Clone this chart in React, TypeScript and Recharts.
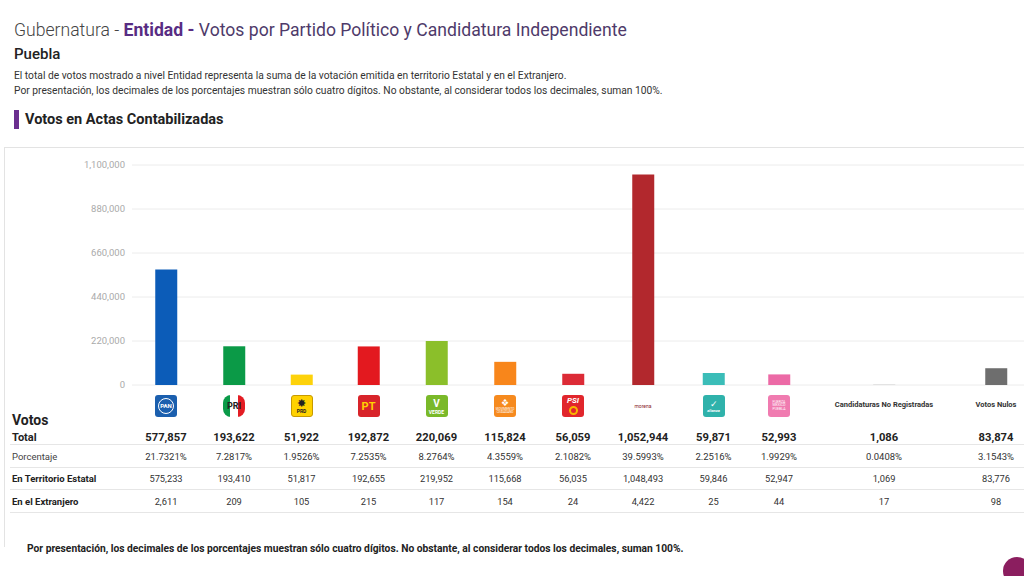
import React from "react";
import { BarChart, Bar, XAxis, YAxis, CartesianGrid, Cell } from "recharts";

// ---- data ----
const partyIds = ["PAN", "PRI", "PRD", "PT", "PVEM", "MC", "PSI", "MORENA", "NAP", "FXM", "CNR", "NULOS"];
const partyNames = [
  "PAN", "PRI", "PRD", "PT", "VERDE", "MC", "PSI", "morena", "Nueva Alianza", "Fuerza por México",
  "Candidaturas No Registradas", "Votos Nulos",
];
const totalVotes = [577857, 193622, 51922, 192872, 220069, 115824, 56059, 1052944, 59871, 52993, 1086, 83874];
const percentages = [21.7321, 7.2817, 1.9526, 7.2535, 8.2764, 4.3559, 2.1082, 39.5993, 2.2516, 1.9929, 0.0408, 3.1543];
const territoryVotes = [575233, 193410, 51817, 192655, 219952, 115668, 56035, 1048493, 59846, 52947, 1069, 83776];
const abroadVotes = [2611, 209, 105, 215, 117, 154, 24, 4422, 25, 44, 17, 98];
const yTicks = [0, 220000, 440000, 660000, 880000, 1100000];

// ---- styles / layout ----
const barColors = [
  "#0c5cb8", "#0b9a47", "#fdd20b", "#e3191f", "#8bbf2a", "#f8861b",
  "#dc2b36", "#b2282d", "#3bbdb8", "#ec6aa6", "#9e9e9e", "#6e6e6e",
];
const labelColWidth = 132;
const columnWidths = [68, 68, 67, 67, 69, 68, 68, 72, 69, 62, 148, 76];
const totalWidth = columnWidths.reduce((a, b) => a + b, 0);
const FONT = "Roboto, 'Noto Sans', Arial, sans-serif";

const chartData = partyIds.map((id, i) => {
  const before = columnWidths.slice(0, i).reduce((a, b) => a + b, 0);
  return { id, name: partyNames[i], votes: totalVotes[i], col: before + columnWidths[i] / 2 };
});

const fmt = (n: number) => n.toLocaleString("en-US");

function Logo({ id }: { id: string }) {
  const box: React.CSSProperties = {
    width: 22, height: 22, borderRadius: 3, display: "flex", alignItems: "center",
    justifyContent: "center", boxSizing: "border-box", overflow: "hidden", lineHeight: 1,
  };
  switch (id) {
    case "PAN":
      return (
        <div style={{ ...box, background: "#1b5fae" }}>
          <div style={{ width: 16, height: 16, borderRadius: 8, border: "1.5px solid #fff", color: "#fff", fontSize: 6, fontWeight: 700, display: "flex", alignItems: "center", justifyContent: "center", boxSizing: "border-box" }}>PAN</div>
        </div>
      );
    case "PRI":
      return (
        <div style={{ ...box, background: "linear-gradient(90deg,#0a9a48 0 30%,#fff 30% 70%,#e31c23 70% 100%)", borderRadius: 8, color: "#222", fontSize: 9, fontWeight: 700 }}>PRI</div>
      );
    case "PRD":
      return (
        <div style={{ ...box, background: "#ffd200", border: "1px solid #c79a00", flexDirection: "column" }}>
          <div style={{ color: "#222", fontSize: 11, lineHeight: "11px" }}>✸</div>
          <div style={{ color: "#222", fontSize: 5, fontWeight: 700 }}>PRD</div>
        </div>
      );
    case "PT":
      return <div style={{ ...box, background: "#d8242a", color: "#ffd200", fontSize: 11, fontWeight: 700 }}>PT</div>;
    case "PVEM":
      return (
        <div style={{ ...box, background: "#7ab929", flexDirection: "column", color: "#fff" }}>
          <div style={{ fontSize: 10, fontWeight: 700, lineHeight: "12px" }}>V</div>
          <div style={{ fontSize: 5, fontWeight: 700 }}>VERDE</div>
        </div>
      );
    case "MC":
      return (
        <div style={{ ...box, background: "#f68a1e", color: "#fff", flexDirection: "column" }}>
          <div style={{ fontSize: 9, lineHeight: "9px" }}>❖</div>
          <div style={{ fontSize: 3 }}>MOVIMIENTO CIUDADANO</div>
        </div>
      );
    case "PSI":
      return (
        <div style={{ ...box, background: "#e1262c", color: "#fff", flexDirection: "column" }}>
          <div style={{ fontSize: 8, fontWeight: 700, fontStyle: "italic" }}>PSI</div>
          <div style={{ width: 9, height: 9, borderRadius: 5, border: "2px solid #f7b500", boxSizing: "border-box", marginTop: 1 }} />
        </div>
      );
    case "MORENA":
      return <div style={{ ...box, color: "#8a1c2a", fontSize: 5 }}>morena</div>;
    case "NAP":
      return (
        <div style={{ ...box, background: "#2fb2ab", color: "#fff", flexDirection: "column" }}>
          <div style={{ fontSize: 9, lineHeight: "9px" }}>✓</div>
          <div style={{ fontSize: 4, fontStyle: "italic", fontWeight: 700 }}>alianza</div>
        </div>
      );
    case "FXM":
      return (
        <div style={{ ...box, background: "#f07bb0", color: "#fff", fontSize: 3.5, textAlign: "center", padding: 1 }}>FUERZA MÉXICO PUEBLA</div>
      );
    case "CNR":
      return <div style={{ fontSize: 7.5, fontWeight: 700, color: "#333", whiteSpace: "nowrap", marginTop: -4 }}>Candidaturas No Registradas</div>;
    case "NULOS":
      return <div style={{ fontSize: 7.5, fontWeight: 700, color: "#333", whiteSpace: "nowrap", marginTop: -4 }}>Votos Nulos</div>;
    default:
      return null;
  }
}

function Row({ top, height, label, labelStyle, cells, cellStyle }: any) {
  return (
    <div style={{ position: "absolute", left: 0, top, height, display: "flex", alignItems: "center", width: labelColWidth + totalWidth }}>
      <div style={{ width: labelColWidth, paddingLeft: 12, boxSizing: "border-box", ...labelStyle }}>{label}</div>
      {cells.map((c: any, i: number) => (
        <div key={i} style={{ width: columnWidths[i], textAlign: "center", display: "flex", justifyContent: "center", ...cellStyle }}>{c}</div>
      ))}
    </div>
  );
}

const hLine = (top: number) => (
  <div style={{ position: "absolute", left: 10, top, width: 1030, height: 1, background: "#e6e6e6" }} />
);

export default function App() {
  return (
    <div style={{ position: "absolute", left: 0, top: 0, width: 1024, height: 576, overflow: "hidden", background: "#fff", fontFamily: FONT, color: "#333" }}>
      {/* header */}
      <div style={{ position: "absolute", left: 14, top: 19, fontSize: 17.6, whiteSpace: "nowrap", lineHeight: "22px" }}>
        <span style={{ color: "#444", fontWeight: 300 }}>Gubernatura - </span>
        <span style={{ color: "#582c83", fontWeight: 700 }}>Entidad - </span>
        <span style={{ color: "#4e3a6a" }}>Votos por Partido Político y Candidatura Independiente</span>
      </div>
      <div style={{ position: "absolute", left: 14, top: 45, fontSize: 15, fontWeight: 500, color: "#222", lineHeight: "18px" }}>Puebla</div>
      <div style={{ position: "absolute", left: 14, top: 68, fontSize: 10.25, color: "#333", lineHeight: "15px", whiteSpace: "nowrap" }}>
        El total de votos mostrado a nivel Entidad representa la suma de la votación emitida en territorio Estatal y en el Extranjero.
        <br />
        Por presentación, los decimales de los porcentajes muestran sólo cuatro dígitos. No obstante, al considerar todos los decimales, suman 100%.
      </div>
      <div style={{ position: "absolute", left: 14, top: 110, width: 5, height: 19, background: "#6b2f8f" }} />
      <div style={{ position: "absolute", left: 25, top: 110, fontSize: 14.5, fontWeight: 700, color: "#222", lineHeight: "19px" }}>Votos en Actas Contabilizadas</div>

      {/* card borders */}
      <div style={{ position: "absolute", left: 4, top: 147, width: 1030, height: 1, background: "#e3e3e3" }} />
      <div style={{ position: "absolute", left: 4, top: 147, width: 1, height: 400, background: "#e3e3e3" }} />

      {/* chart */}
      <div style={{ position: "absolute", left: 0, top: 150 }}>
        <BarChart width={labelColWidth + totalWidth} height={240} data={chartData} margin={{ top: 15, right: 0, left: 0, bottom: 5 }}>
          <CartesianGrid horizontal vertical={false} stroke="#ececec" />
          <XAxis type="number" dataKey="col" domain={[0, totalWidth]} hide />
          <YAxis
            type="number"
            domain={[0, 1100000]}
            ticks={yTicks}
            width={labelColWidth}
            axisLine={false}
            tickLine={false}
            tickSize={6}
            tickMargin={1}
            interval={0}
            tick={{ fontSize: 9.5, fill: "#aaaaaa", fontFamily: FONT }}
            tickFormatter={(v: number) => fmt(v)}
          />
          <Bar dataKey="votes" barSize={22} isAnimationActive={false}>
            {chartData.map((d, i) => (
              <Cell key={d.id} fill={barColors[i]} />
            ))}
          </Bar>
        </BarChart>
      </div>

      {/* logos row */}
      <Row top={395} height={22} label="" cells={partyIds.map((id) => <Logo id={id} />)} />

      {/* table */}
      <div style={{ position: "absolute", left: 12, top: 411, fontSize: 14, fontWeight: 700, color: "#222", lineHeight: "18px" }}>Votos</div>
      <Row top={428} height={18} label="Total" labelStyle={{ fontSize: 11, fontWeight: 700, color: "#222" }}
        cells={totalVotes.map(fmt)} cellStyle={{ fontSize: 11.2, fontWeight: 700, color: "#222" }} />
      {hLine(444)}
      <Row top={447} height={19} label="Porcentaje" labelStyle={{ fontSize: 9.5, color: "#444" }}
        cells={percentages.map((p) => p.toFixed(4) + "%")} cellStyle={{ fontSize: 9.5, color: "#333" }} />
      {hLine(467)}
      <Row top={469} height={19} label="En Territorio Estatal" labelStyle={{ fontSize: 9.5, fontWeight: 700, color: "#222" }}
        cells={territoryVotes.map(fmt)} cellStyle={{ fontSize: 9.3, color: "#333" }} />
      {hLine(489)}
      <Row top={491} height={20} label="En el Extranjero" labelStyle={{ fontSize: 9.5, fontWeight: 700, color: "#222" }}
        cells={abroadVotes.map(fmt)} cellStyle={{ fontSize: 9.3, color: "#333" }} />
      {hLine(512)}

      {/* footer */}
      <div style={{ position: "absolute", left: 27, top: 542, fontSize: 10.25, fontWeight: 700, color: "#222", whiteSpace: "nowrap", lineHeight: "14px" }}>
        Por presentación, los decimales de los porcentajes muestran sólo cuatro dígitos. No obstante, al considerar todos los decimales, suman 100%.
      </div>
      <div style={{ position: "absolute", left: 1003, top: 557, width: 28, height: 28, borderRadius: 14, background: "#8b1e5f" }} />
    </div>
  );
}
